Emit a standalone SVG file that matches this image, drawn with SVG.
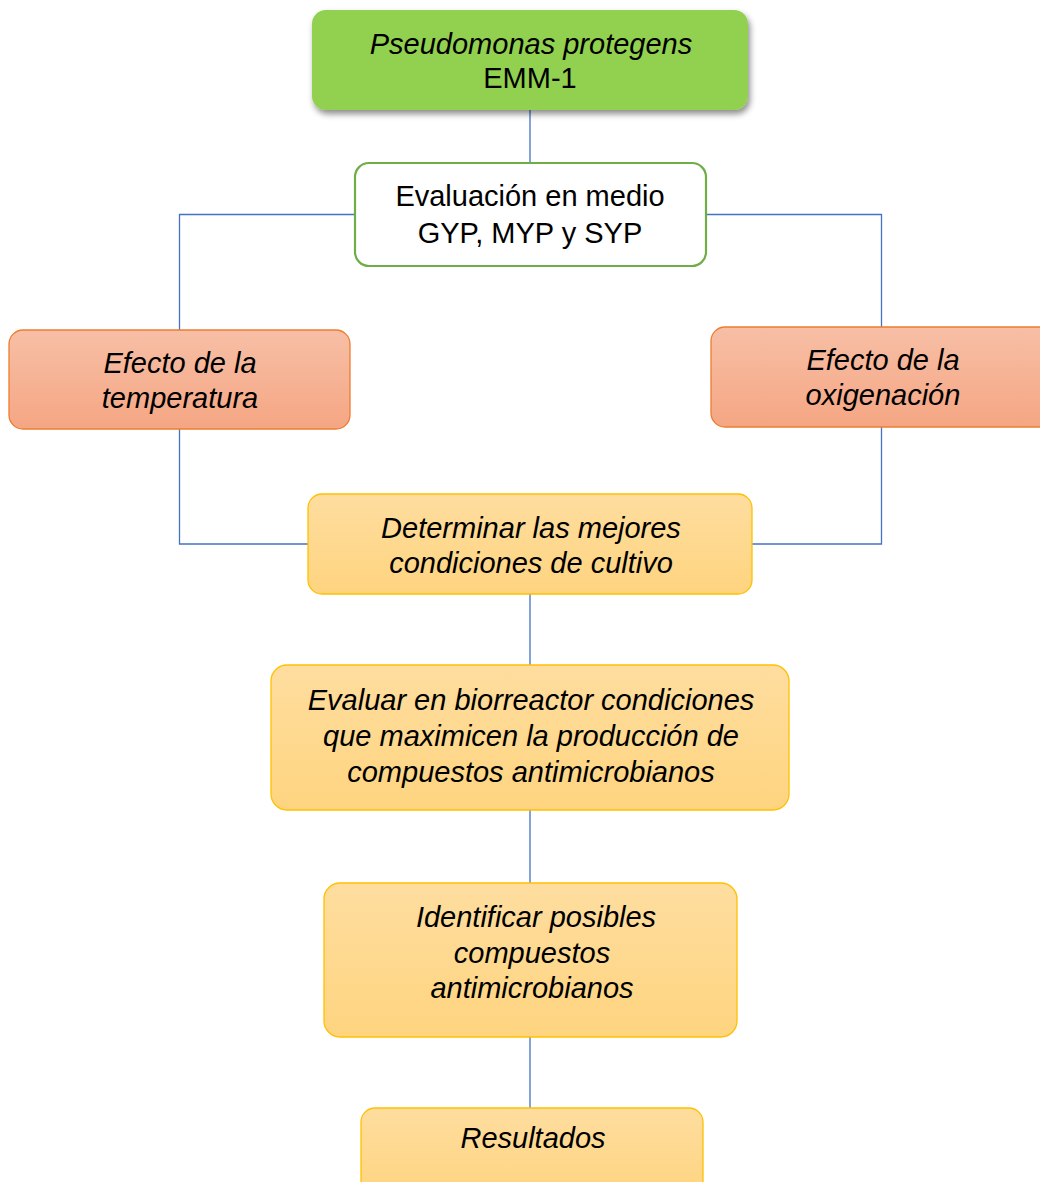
<svg xmlns="http://www.w3.org/2000/svg" width="1040" height="1182" viewBox="0 0 1040 1182">
<defs>
<linearGradient id="gRed" x1="0" y1="0" x2="0" y2="1">
<stop offset="0" stop-color="#F7BFA6"/>
<stop offset="1" stop-color="#F5A683"/>
</linearGradient>
<linearGradient id="gYel" x1="0" y1="0" x2="0" y2="1">
<stop offset="0" stop-color="#FEDD9F"/>
<stop offset="1" stop-color="#FED47F"/>
</linearGradient>
<filter id="shadow" x="-10%" y="-20%" width="120%" height="150%">
<feDropShadow dx="2" dy="4" stdDeviation="3" flood-color="#000" flood-opacity="0.45"/>
</filter>
</defs>
<style>
.t{font-family:"Liberation Sans",Arial,sans-serif;font-size:29px;fill:#000;text-anchor:middle}
.i{font-style:italic}
.c{fill:none;stroke:#4472C4;stroke-width:1.3}
.red{fill:url(#gRed);stroke:#ED7D31;stroke-width:1.3}
.yel{fill:url(#gYel);stroke:#FFC000;stroke-width:1.3}
</style>
<rect width="1040" height="1182" fill="#fff"/>
<g id="connectors">
<line class="c" x1="530" y1="110" x2="530" y2="163"/>
<polyline class="c" points="355,214.5 179.5,214.5 179.5,330"/>
<polyline class="c" points="706,214.5 881.5,214.5 881.5,327"/>
<polyline class="c" points="179.5,429 179.5,544 308,544"/>
<polyline class="c" points="881.5,427 881.5,544 752,544"/>
<line class="c" x1="530" y1="594" x2="530" y2="665"/>
<line class="c" x1="530" y1="810" x2="530" y2="883"/>
<line class="c" x1="530" y1="1037" x2="530" y2="1108"/>
</g>
<g id="node-pseudomonas">
<rect x="312" y="10" width="436" height="100" rx="14" fill="#92D050" filter="url(#shadow)"/>
<text class="t i" x="531" y="54">Pseudomonas protegens</text>
<text class="t" x="530" y="88">EMM-1</text>
</g>
<g id="node-evaluacion">
<rect x="355" y="163" width="351" height="103" rx="14" fill="#fff" stroke="#70AD47" stroke-width="2.2"/>
<text class="t" x="530" y="206">Evaluación en medio</text>
<text class="t" x="530" y="243">GYP, MYP y SYP</text>
</g>
<g id="node-temperatura">
<rect class="red" x="9" y="330" width="341" height="99" rx="14"/>
<text class="t i" x="180" y="373">Efecto de la</text>
<text class="t i" x="180" y="408">temperatura</text>
</g>
<g id="node-oxigenacion">
<rect class="red" x="711" y="327" width="345" height="100" rx="14"/>
<text class="t i" x="883" y="370">Efecto de la</text>
<text class="t i" x="883" y="405">oxigenación</text>
</g>
<g id="node-determinar">
<rect class="yel" x="308" y="494" width="444" height="100" rx="14"/>
<text class="t i" x="531" y="538">Determinar las mejores</text>
<text class="t i" x="531" y="573">condiciones de cultivo</text>
</g>
<g id="node-evaluar">
<rect class="yel" x="271" y="665" width="518" height="145" rx="16"/>
<text class="t i" x="531" y="710">Evaluar en biorreactor condiciones</text>
<text class="t i" x="531" y="746">que maximicen la producción de</text>
<text class="t i" x="531" y="782">compuestos antimicrobianos</text>
</g>
<g id="node-identificar">
<rect class="yel" x="324" y="883" width="413" height="154" rx="16"/>
<text class="t i" x="536" y="927">Identificar posibles</text>
<text class="t i" x="532" y="963">compuestos</text>
<text class="t i" x="532" y="998">antimicrobianos</text>
</g>
<g id="node-resultados">
<rect class="yel" x="361" y="1108" width="342" height="90" rx="14"/>
<text class="t i" x="533" y="1148">Resultados</text>
</g>
</svg>
